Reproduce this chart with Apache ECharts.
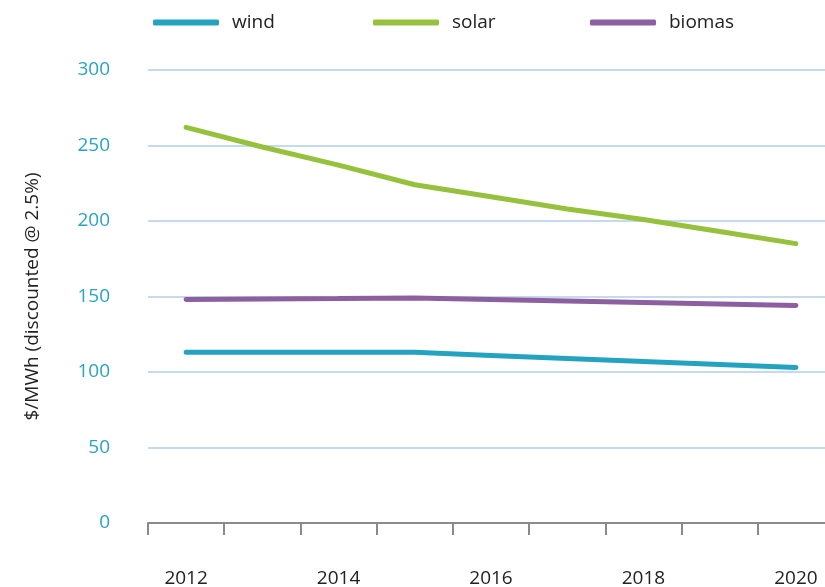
<!DOCTYPE html>
<html>
<head>
<meta charset="utf-8">
<script src="https://cdn.jsdelivr.net/npm/echarts@6/dist/echarts.min.js"></script>
<style>
  html, body { margin: 0; padding: 0; background: #fff; }
  #main { width: 825px; height: 587px; }
</style>
</head>
<body>
<div id="main"></div>
<script>
var years = ["2012", "2013", "2014", "2015", "2016", "2017", "2018", "2019", "2020"];
var wind = [113, 113, 113, 113, 111, 109, 107, 105, 103];
var solar = [262, 249, 237, 224, 216, 208, 201, 193, 185];
var biomas = [148, 148.3, 148.6, 149, 148, 147, 146, 145, 144];

var chartDom = document.getElementById("main");
var myChart = echarts.init(chartDom);
var font = "'Open Sans', sans-serif";

// one legend per series so each sits where the original puts it
function legendAt(name, left) {
  return {
    top: 13,
    left: left,
    padding: 0,
    itemWidth: 66,
    itemHeight: 6,
    icon: "roundRect",
    textStyle: { fontFamily: font, fontSize: 19, color: "#222", padding: [0, 0, 0, 8] },
    data: [name]
  };
}

var option = {
  animation: false,
  legend: [legendAt("wind", 153), legendAt("solar", 373), legendAt("biomas", 590)],
  // plot runs past the right edge, as in the original
  grid: { left: 148, width: 686, top: 70, bottom: 64, outerBoundsMode: "none" },
  xAxis: {
    type: "category",
    data: years,
    boundaryGap: true,
    axisLine: { show: true, lineStyle: { color: "#8a8a8a", width: 2 } },
    axisTick: { show: true, length: 12, interval: 0, lineStyle: { color: "#8a8a8a", width: 2 } },
    axisLabel: { interval: 1, margin: 46, fontFamily: font, fontSize: 19, color: "#222" }
  },
  yAxis: {
    type: "value",
    min: 0,
    max: 300,
    interval: 50,
    name: "$/MWh (discounted @ 2.5%)",
    nameLocation: "middle",
    nameGap: 106,
    nameTextStyle: { fontFamily: font, fontSize: 19, color: "#222" },
    axisLine: { show: false },
    axisTick: { show: false },
    axisLabel: { margin: 38, fontFamily: font, fontSize: 19, color: "#2aa3c2" },
    splitLine: { lineStyle: { color: "#c6daef", width: 2 } }
  },
  series: [
    { name: "wind", type: "line", data: wind, symbol: "none", color: "#24a3c0", lineStyle: { width: 5, cap: "round" } },
    { name: "solar", type: "line", data: solar, symbol: "none", color: "#95c13d", lineStyle: { width: 5, cap: "round" } },
    { name: "biomas", type: "line", data: biomas, symbol: "none", color: "#8c5fa0", lineStyle: { width: 5, cap: "round" } }
  ]
};

option && myChart.setOption(option);
</script>
</body>
</html>
